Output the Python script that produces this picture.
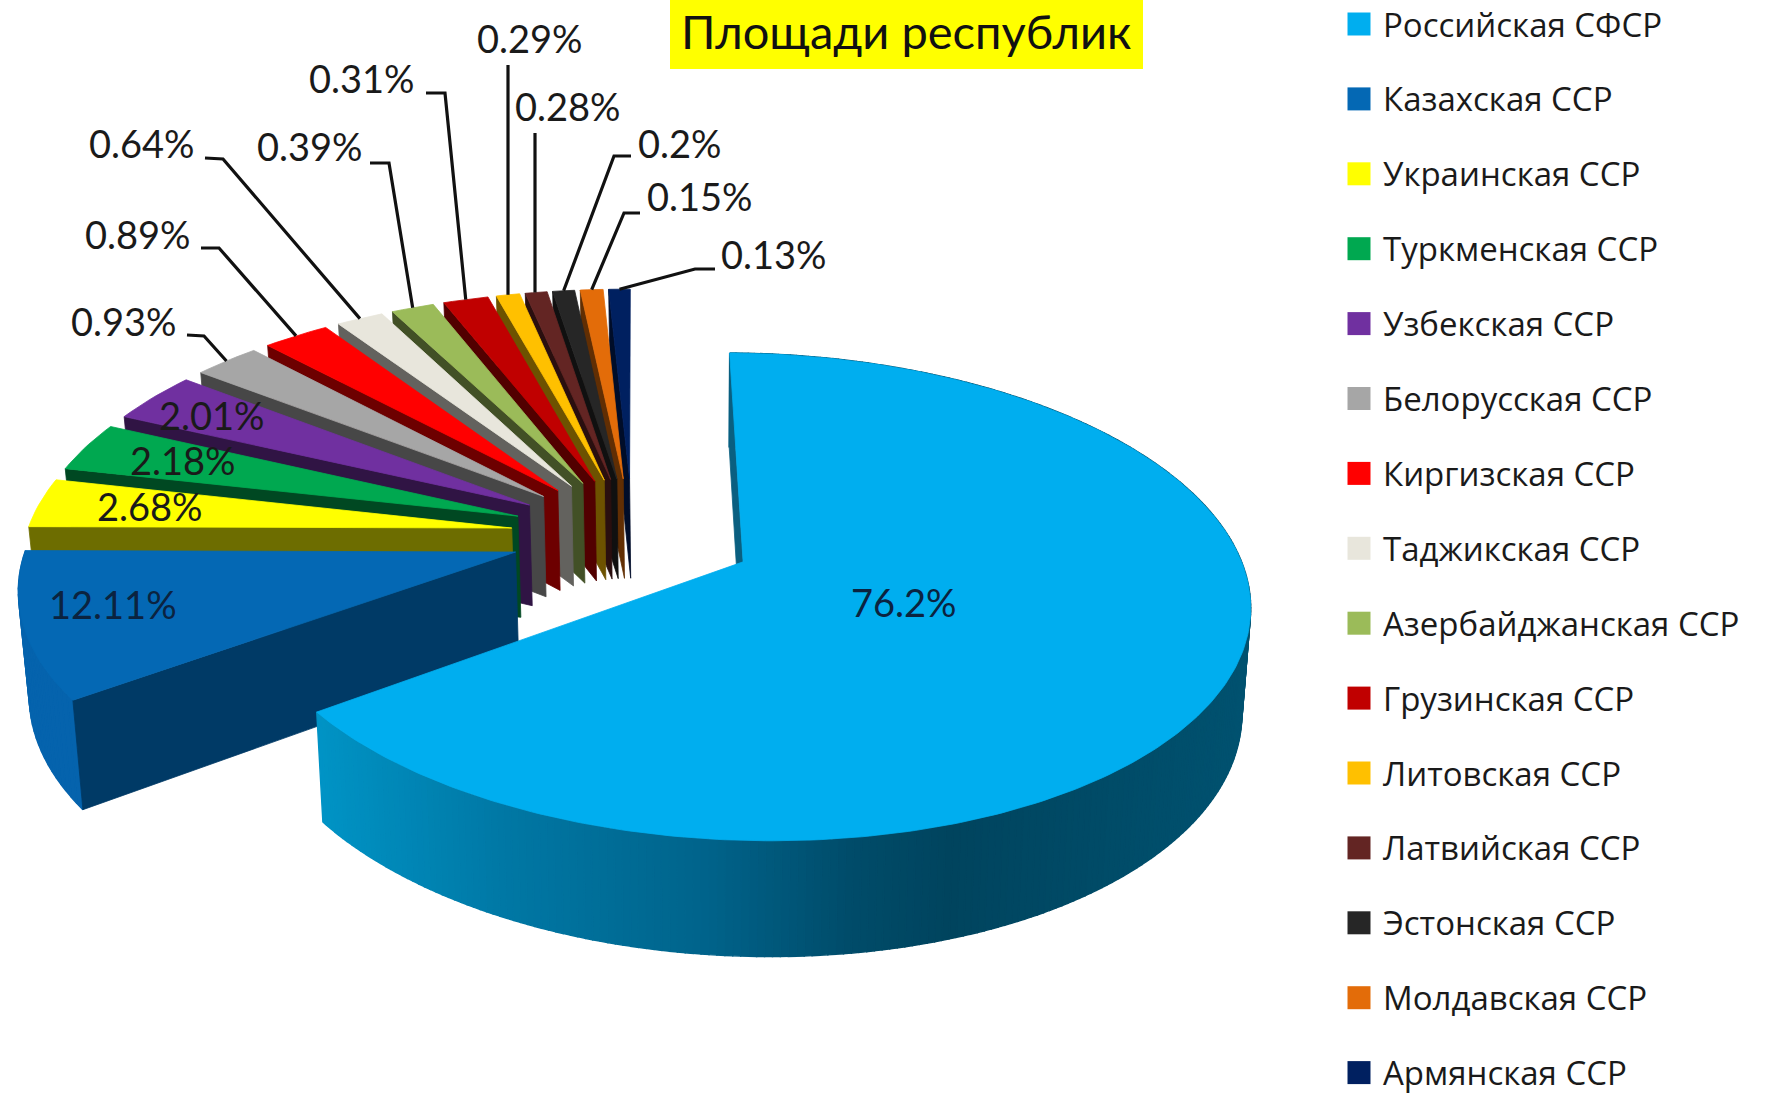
import numpy as np, plotly.graph_objects as go

republics = ["Российская СФСР","Казахская ССР","Украинская ССР","Туркменская ССР","Узбекская ССР",
             "Белорусская ССР","Киргизская ССР","Таджикская ССР","Азербайджанская ССР","Грузинская ССР",
             "Литовская ССР","Латвийская ССР","Эстонская ССР","Молдавская ССР","Армянская ССР"]
# printed data labels
printed_pct = [76.2,12.11,2.68,2.18,2.01,0.93,0.89,0.64,0.39,0.31,0.29,0.28,0.2,0.15,0.13]
# share of the ring each slice occupies as it is drawn in the picture (differs from the printed labels)
drawn_share = [64.96,9.92,3.40,3.44,3.55,2.59,2.59,1.83,1.66,1.75,0.91,0.85,0.85,0.88,0.83]
colors = ["#00AEEF","#0468B4","#FFFF00","#00A850","#7030A0","#A6A6A6","#FF0000","#E8E6DC","#9BBB59",
          "#C00000","#FFC000","#632523","#262626","#E36C09","#002060"]
title = "Площади республик"
FONT = "Lato, 'Open Sans', sans-serif"
LEGEND_FONT = "'Open Sans', Lato, sans-serif"
TEXT = "#1A1A1A"

# view of the pie: homography of the pie plane, explosion, extrusion
H = [632.532,534.5,484.5,89.726,0.389,-155.442,-0.00538,0.14116]
EXPLODE = 0.25

def proj(x, y):
    w = 1+H[6]*x+H[7]*y
    return (H[0]+H[2]*x+H[3]*y)/w, (H[1]+H[4]*x+H[5]*y)/w
def drop(X, Y):
    return X+(700-X)*0.016, Y+100+(Y-490)*0.045

share = np.array(drawn_share)
edges = np.radians(np.concatenate([[0],np.cumsum(share)])/share.sum()*360)

fig = go.Figure()
def poly(xs, ys, color, lw=0.8):
    fig.add_trace(go.Scatter(x=list(xs)+[xs[0]], y=list(ys)+[ys[0]], mode="lines", fill="toself", fillcolor=color,
                             line=dict(color=color,width=lw), hoverinfo="skip", showlegend=False))
def dark(c, f=0.43):
    r,g,b = [int(c[i:i+2],16) for i in (1,3,5)]
    return "#%02X%02X%02X"%(int(r*f),int(g*f),int(b*f))

GX=[300,500,700,850,950,1250]
GC=np.array([[0,150,200],[0,120,165],[0,100,140],[0,76,106],[0,68,94],[0,82,112]])

slices=[]
for i in range(15):
    a,b=edges[i],edges[i+1]; m=(a+b)/2
    ox,oy=EXPLODE*np.sin(m),EXPLODE*np.cos(m)
    step=np.radians(0.8 if i==0 else 1.5)
    t=np.linspace(a,b,max(3,int((b-a)/step)+2))
    rim=[proj(ox+np.sin(v),oy+np.cos(v)) for v in t]
    slices.append(dict(apex=proj(ox,oy),rim=rim,mid=proj(ox+np.sin(m),oy+np.cos(m))))

for i in list(range(14,-1,-1)):
    s=slices[i]; c=colors[i]; rim=s["rim"]; ap=s["apex"]
    wc=dark(c) if i else "#0A5F80"
    # outer wall for the two front slices
    if i<2:
        for k in range(len(rim)-1):
            p,q=rim[k],rim[k+1]
            pb,qb=drop(*p),drop(*q)
            mx=(p[0]+q[0])/2
            if i==0:
                col=[np.interp(mx,GX,GC[:,j]) for j in range(3)]
                col="#%02X%02X%02X"%tuple(int(round(v)) for v in col)
            else:
                col="#0563AD"
            poly([p[0],q[0],qb[0],pb[0]],[p[1],q[1],qb[1],pb[1]],col,lw=1.4)
    # radial wall
    p=rim[0]; pb=drop(*p); ab=drop(*ap)
    if i==1: wc="#003A66"
    poly([ap[0],p[0],pb[0],ab[0]],[ap[1],p[1],pb[1],ab[1]],wc)
    # top
    poly([ap[0]]+[r[0] for r in rim],[ap[1]]+[r[1] for r in rim],c)

# leader lines: from beside the label (elbow points) to the rim of the slice
leader_from = {5:[(187,335),(204,336)],6:[(201,248),(219,248)],7:[(205,158),(223,159)],8:[(370,163),(389,163)],
               9:[(426,93),(445,93)],10:[(508,65)],11:[(535,133)],12:[(631,156),(614,156)],13:[(640,213),(624,213)],14:[(715,269),(695,269)]}
for i,pts in leader_from.items():
    mx,my=slices[i]["mid"]
    if i in (10,11): mx=pts[0][0]
    xs=[p[0] for p in pts]+[mx]; ys=[p[1] for p in pts]+[my]
    fig.add_trace(go.Scatter(x=xs,y=ys,mode="lines",line=dict(color="#111111",width=3.2),hoverinfo="skip",showlegend=False))

label_pos=[(904,602),(113,604),(150,506),(183,460),(212,415),(124,321),(138,234),(142,143),(310,146),(362,78),(530,38),(568,106),(680,143),(700,196),(774,254)]
ann=[]
for i,(v,(x,y)) in enumerate(zip(printed_pct,label_pos)):
    ann.append(dict(x=x,y=y,text=f"{v}%",showarrow=False,font=dict(family=FONT,size=38,color=TEXT if i>1 else "#0B2340"),xanchor="center",yanchor="middle"))

# legend
rows_y=[24+i*74.9 for i in range(15)]
fig.add_trace(go.Scatter(x=[1359]*15,y=rows_y,mode="markers",marker=dict(symbol="square",size=23,color=colors,line=dict(width=0)),hoverinfo="skip",showlegend=False))
for n,y in zip(republics,rows_y):
    ann.append(dict(x=1381,y=y,text=n,showarrow=False,xanchor="left",yanchor="middle",font=dict(family=LEGEND_FONT,size=33,color=TEXT)))

ann.append(dict(x=906,y=31,text=title,showarrow=False,xanchor="center",yanchor="middle",font=dict(family=FONT,size=47,color="#111111")))

fig.update_layout(width=1787,height=1095,margin=dict(l=0,r=0,t=0,b=0),paper_bgcolor="white",plot_bgcolor="white",
    xaxis=dict(range=[0,1787],visible=False,fixedrange=True),yaxis=dict(range=[1095,0],visible=False,fixedrange=True),
    showlegend=False,annotations=ann,
    shapes=[dict(type="rect",x0=670,x1=1143,y0=0,y1=69,fillcolor="#FFFF00",line=dict(width=0),layer="below")])
fig.write_html("out.html",config=dict(displayModeBar=False),post_script="document.body.style.margin='0';document.body.style.overflow='hidden';")
